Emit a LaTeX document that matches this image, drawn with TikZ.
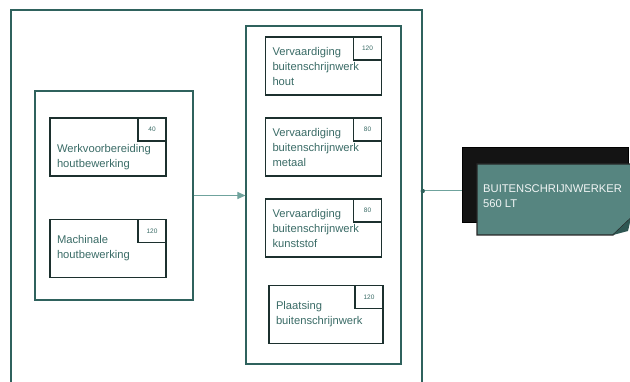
\documentclass[tikz,border=0pt]{standalone}
\usepackage{fontspec}
\setmainfont{Liberation Sans}
\usetikzlibrary{arrows.meta}
\definecolor{frameteal}{HTML}{2F625D}
\definecolor{boxdark}{HTML}{1C302E}
\definecolor{txtteal}{HTML}{3A6B66}
\definecolor{arrowteal}{HTML}{6FA39D}
\definecolor{cardteal}{HTML}{568580}
\definecolor{foldteal}{HTML}{2E5753}
\begin{document}
\begin{tikzpicture}[x=1pt,y=-1pt,
    task/.style={draw=boxdark,line width=1.4pt,rectangle,minimum width=116pt,minimum height=58pt,
      text width=102pt,inner xsep=7pt,align=left,text=txtteal,font=\fontsize{11.2}{15}\selectfont},
    num/.style={draw=boxdark,line width=1.4pt,rectangle,minimum width=28pt,minimum height=23pt,
      anchor=north east,inner sep=0pt,text=txtteal,font=\fontsize{6.5}{7}\selectfont},
    group/.style={draw=frameteal,line width=1.1pt,rectangle,inner sep=0pt}]
        \useasboundingbox (0,0) rectangle (630,382);

        \node[draw=frameteal,line width=1.5pt,minimum width=411pt,minimum height=400pt,inner sep=0pt] (frame) at (216.5,210) {};

        \node[group,minimum width=158pt,minimum height=209pt] (grpL) at (114,195.5) {};
        \node[group,minimum width=155pt,minimum height=338pt] (grpR) at (323.5,195) {};

        \node[task] (wvb) at (108,147) {\rule{0pt}{29pt}Werkvoorbereiding\\houtbewerking};
        \node[num] (wvbN) at (wvb.north east) {40};
        \node[task] (mach) at (108,248.5) {Machinale\\houtbewerking};
        \node[num] (machN) at (mach.north east) {120};

        \node[task] (hout) at (323.5,66) {Vervaardiging\\buitenschrijnwerk\\hout};
        \node[num] (houtN) at (hout.north east) {120};
        \node[task] (metaal) at (323.5,147) {Vervaardiging\\buitenschrijnwerk\\metaal};
        \node[num] (metaalN) at (metaal.north east) {80};
        \node[task] (kunst) at (323.5,228) {Vervaardiging\\buitenschrijnwerk\\kunststof};
        \node[num] (kunstN) at (kunst.north east) {80};
        \node[task,minimum width=114pt,text width=100pt] (plaats) at (326,314.5) {Plaatsing\\buitenschrijnwerk};
        \node[num] (plaatsN) at (plaats.north east) {120};

        \draw [arrowteal,line width=1pt,-{Triangle[length=8pt,width=7pt]}] (grpL.east) -- (grpR.west |- grpL.east);

        % functie-kaart rechts
        \node[fill=black!92,draw=black,minimum width=166pt,minimum height=75pt,inner sep=0pt] (back) at (545,184.5) {};
        \filldraw[fill=cardteal,draw=black!85,line width=1.2pt] (477,164) -- (631,164) -- (631,218) -- (613,235) -- (477,235) -- cycle;
        \fill[foldteal] (613,235) -- (631,218) -- (628,231) -- cycle;
        \node[anchor=north west,inner sep=0pt,align=left,text=white!92!cardteal,font=\fontsize{11.2}{15}\selectfont] (lbl) at (483,184) {BUITENSCHRIJNWERKER\\560 LT};

        \coordinate (tap) at (frame.east |- 0,191);
        \draw [arrowteal,line width=1pt] (tap) -- (back.west |- tap);
        \fill[frameteal] (tap) circle (2.2pt);
\end{tikzpicture}
\end{document}
